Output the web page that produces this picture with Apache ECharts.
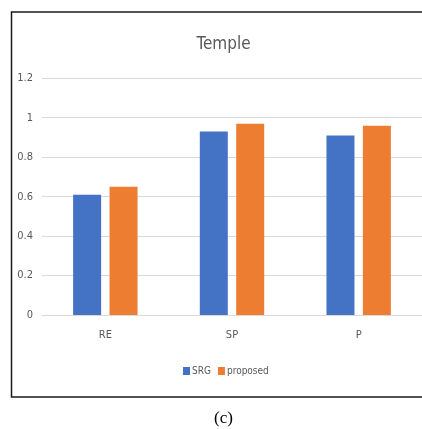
<!DOCTYPE html>
<html>
<head>
<meta charset="utf-8">
<script src="https://cdn.jsdelivr.net/npm/echarts@6/dist/echarts.min.js"></script>
<style>
  html, body { margin: 0; padding: 0; background: #fff; }
  #chart { width: 422px; height: 429px; }
</style>
</head>
<body>
<div id="chart"></div>
<script>
// Category names along the x axis
const categories = ['RE', 'SP', 'P'];
// Scores per method
const srgValues = [0.61, 0.93, 0.91];
const proposedValues = [0.65, 0.97, 0.96];
// Value axis ticks
const yMin = 0;
const yMax = 1.2;
const yStep = 0.2;

const FONT = '"DejaVu Sans Condensed", "Liberation Sans Narrow", sans-serif';
const TEXT_COLOR = '#595959';

const chart = echarts.init(document.getElementById('chart'), null, { renderer: 'canvas' });

chart.setOption({
  backgroundColor: '#ffffff',
  animation: false,
  title: [
    {
      text: 'Temple',
      left: 223.5,
      top: 36,
      padding: 0,
      textAlign: 'center',
      textStyle: { fontFamily: FONT, fontSize: 17, fontWeight: 'normal', color: TEXT_COLOR }
    },
    {
      text: '(c)',
      left: 223.5,
      top: 410,
      padding: 0,
      textAlign: 'center',
      textStyle: { fontFamily: '"Liberation Serif", "DejaVu Serif", serif', fontSize: 17, fontWeight: 'normal', color: '#000' }
    }
  ],
  graphic: [
    {
      type: 'rect',
      shape: { x: 11.5, y: 12, width: 430, height: 385 },
      style: { fill: 'none', stroke: '#1a1a1a', lineWidth: 1.5 },
      silent: true
    }
  ],
  legend: {
    data: ['SRG', 'proposed'],
    left: 178,
    top: 361,
    itemWidth: 7,
    itemHeight: 8,
    itemGap: 7,
    icon: 'rect',
    textStyle: { fontFamily: FONT, fontSize: 10, color: TEXT_COLOR, padding: [0, 0, 0, -3] }
  },
  grid: { left: 42, right: 0, top: 78.3, bottom: 114, containLabel: false },
  xAxis: {
    type: 'category',
    data: categories,
    axisTick: { show: false },
    axisLine: { show: true, lineStyle: { color: '#d9d9d9', width: 1 } },
    axisLabel: { fontFamily: FONT, fontSize: 11, color: TEXT_COLOR, margin: 15 }
  },
  yAxis: {
    type: 'value',
    min: yMin,
    max: yMax,
    interval: yStep,
    axisLine: { show: false },
    axisTick: { show: false },
    axisLabel: {
      fontFamily: FONT, fontSize: 11, color: TEXT_COLOR, margin: 9,
      formatter: v => String(Math.round(v * 10) / 10)
    },
    splitLine: { lineStyle: { color: '#d9d9d9', width: 1 } }
  },
  series: [
    {
      name: 'SRG',
      type: 'bar',
      data: srgValues,
      barWidth: 28,
      barGap: '30%',
      itemStyle: { color: '#4472C4' }
    },
    {
      name: 'proposed',
      type: 'bar',
      data: proposedValues,
      barWidth: 28,
      itemStyle: { color: '#ED7D31' }
    }
  ]
});
</script>
</body>
</html>
